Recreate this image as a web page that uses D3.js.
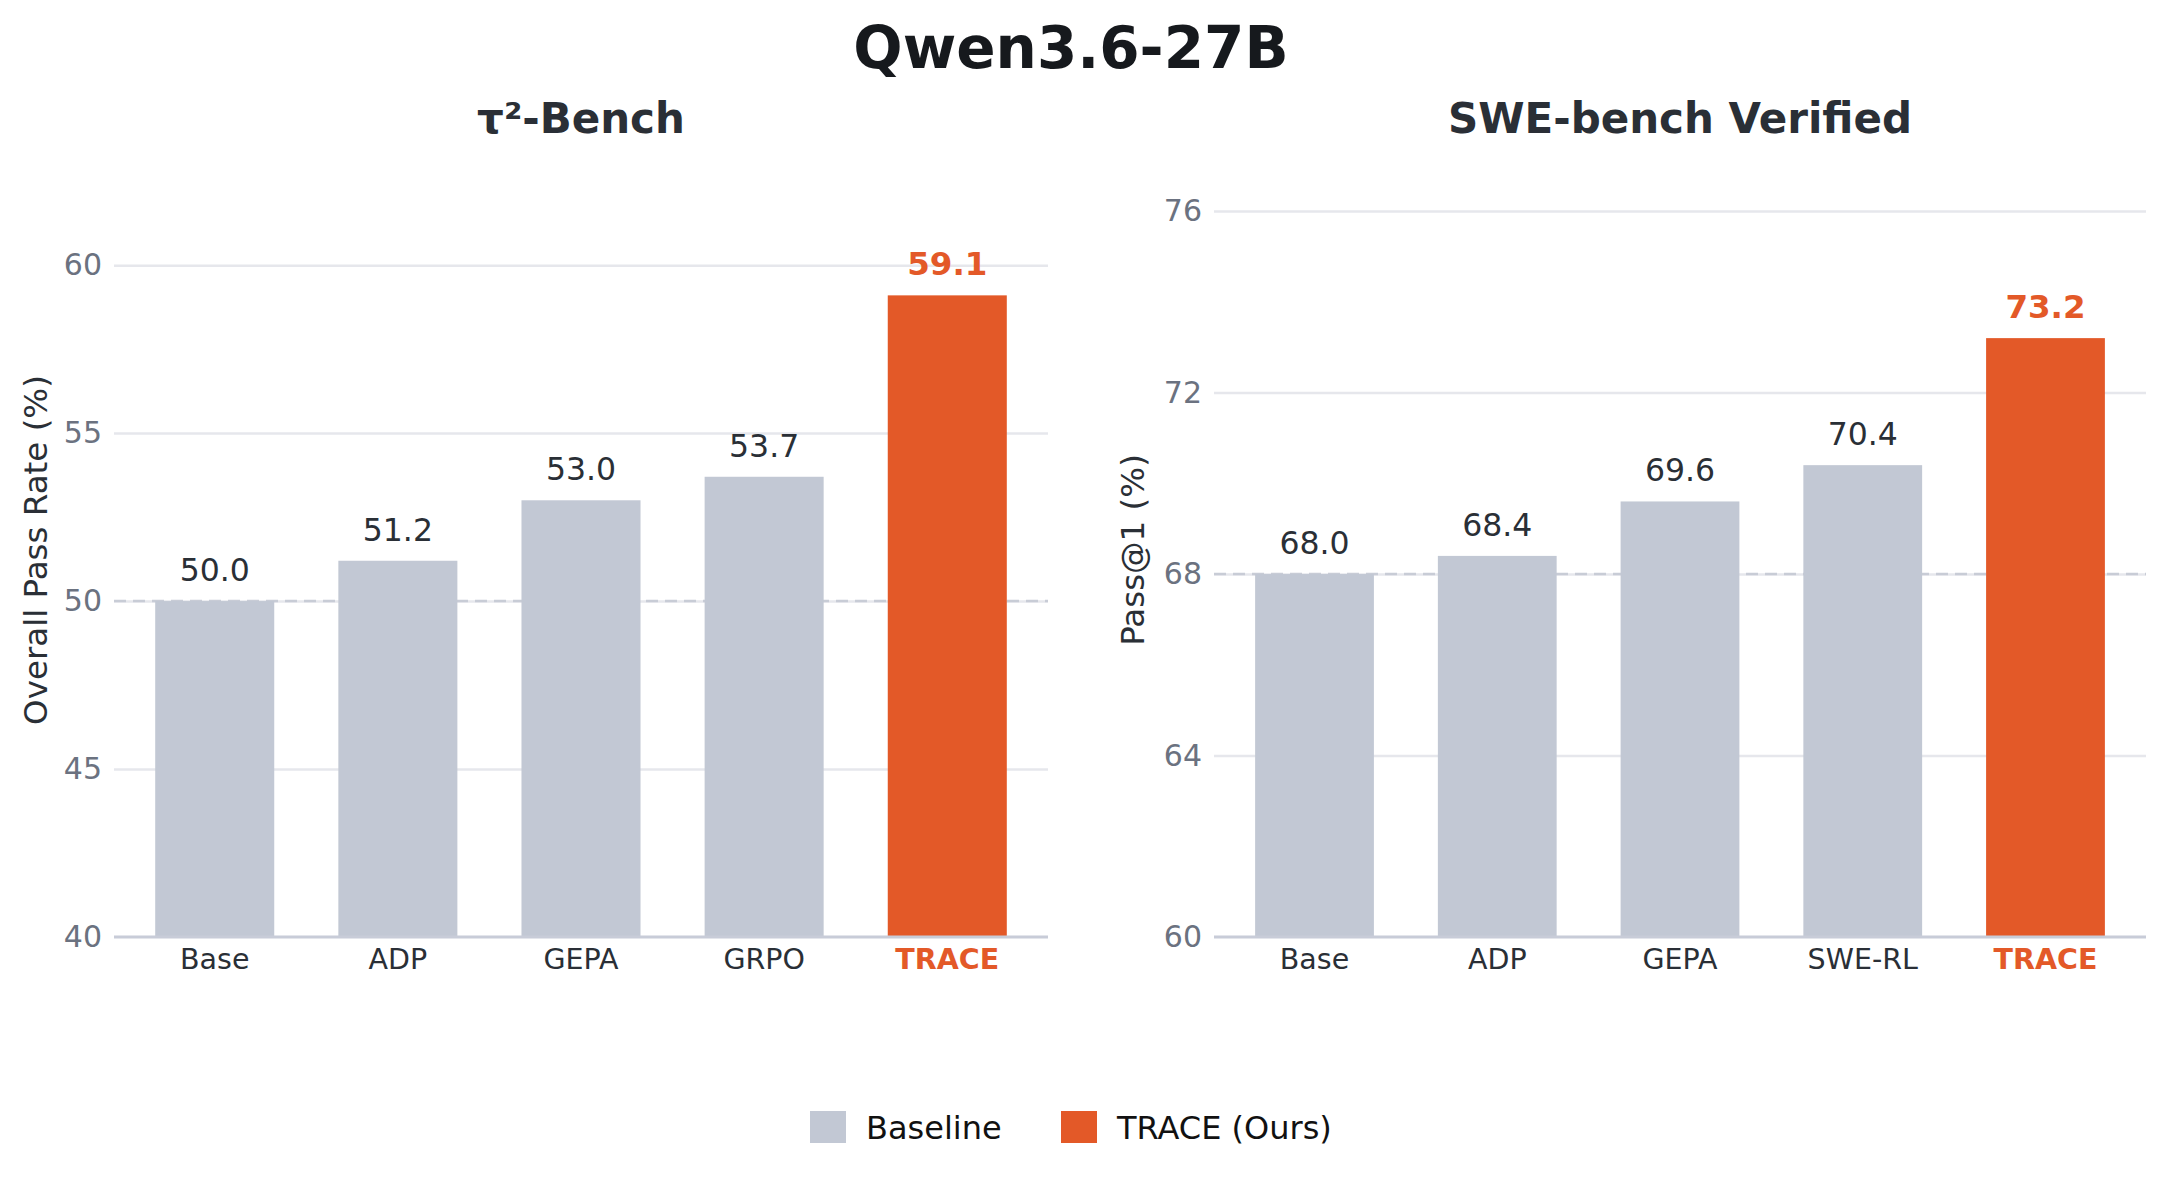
<!DOCTYPE html>
<html lang="en">
<head>
<meta charset="UTF-8">
<script src="https://d3js.org/d3.v7.min.js"></script>
<style>
  body { margin: 0; background: #fff; }
  svg { font-family: "DejaVu Sans", sans-serif; }
</style>
</head>
<body>
<div id="chart"></div>
<script>
// Data
const tauMethods = ["Base", "ADP", "GEPA", "GRPO", "TRACE"];
const tauValues = [50.0, 51.2, 53.0, 53.7, 59.1];
const tauTicks = [40, 45, 50, 55, 60];

const sweMethods = ["Base", "ADP", "GEPA", "SWE-RL", "TRACE"];
const sweValues = [68.0, 68.4, 69.6, 70.4, 73.2];
const sweTicks = [60, 64, 68, 72, 76];

const legendLabels = ["Baseline", "TRACE (Ours)"];

const width = 2167, height = 1180;
const grey = "#c2c8d4", orange = "#e35928";

const svg = d3.select("#chart").append("svg")
  .attr("width", width)
  .attr("height", height);

svg.append("text")
  .attr("x", 1071).attr("y", 68)
  .attr("text-anchor", "middle")
  .attr("font-size", 58).attr("font-weight", "bold")
  .attr("fill", "#16191d")
  .text("Qwen3.6-27B");

function panel(opts) {
  const { x0, x1, top, bottom, domain, ticks, methods, values, title, ylabel, ylabelX } = opts;
  const g = svg.append("g");

  const x = d3.scaleBand().domain(methods).range([x0, x1])
    .paddingInner(0.35).paddingOuter(0.225);
  const y = d3.scaleLinear().domain(domain).range([bottom, top]);

  // title
  g.append("text")
    .attr("x", (x0 + x1) / 2).attr("y", 133)
    .attr("text-anchor", "middle")
    .attr("font-size", 42).attr("font-weight", "bold")
    .attr("fill", "#2a2f36")
    .text(title);

  // grid + tick labels
  const yAxis = g.append("g")
    .attr("transform", `translate(${x0},0)`)
    .call(d3.axisLeft(y).tickValues(ticks).tickSize(-(x1 - x0)).tickPadding(12));
  yAxis.select(".domain").remove();
  yAxis.selectAll(".tick line").attr("stroke", "#e6e7ec").attr("stroke-width", 2.5);
  yAxis.selectAll(".tick text")
    .attr("font-size", 30).attr("fill", "#6b7280")
    .attr("font-family", "DejaVu Sans");
  // bottom grid line is covered by the axis line
  yAxis.selectAll(".tick").filter(d => d === domain[0]).select("line").remove();

  // baseline reference (dashed)
  g.append("line")
    .attr("x1", x0).attr("x2", x1)
    .attr("y1", y(values[0])).attr("y2", y(values[0]))
    .attr("stroke", "#c8ccd6").attr("stroke-width", 2.5)
    .attr("stroke-dasharray", "12,7");

  // bars
  const last = methods.length - 1;
  g.selectAll(".bar").data(values).join("rect")
    .attr("x", (d, i) => x(methods[i]))
    .attr("width", x.bandwidth())
    .attr("y", d => y(d))
    .attr("height", d => y(domain[0]) - y(d))
    .attr("fill", (d, i) => i === last ? orange : grey);

  // value labels
  g.selectAll(".val").data(values).join("text")
    .attr("x", (d, i) => x(methods[i]) + x.bandwidth() / 2)
    .attr("y", d => y(d) - 20)
    .attr("text-anchor", "middle")
    .attr("font-size", (d, i) => i === last ? 32.5 : 31.5)
    .attr("font-weight", (d, i) => i === last ? "bold" : "normal")
    .attr("fill", (d, i) => i === last ? orange : "#2a2f36")
    .text(d => d.toFixed(1));

  // x axis
  const xAxis = g.append("g")
    .attr("transform", `translate(0,${bottom})`)
    .call(d3.axisBottom(x).tickSize(0).tickPadding(12));
  xAxis.select(".domain").attr("stroke", "#c8ccd8").attr("stroke-width", 3)
    .attr("d", `M${x0},0H${x1}`);
  xAxis.selectAll(".tick text")
    .attr("font-size", 28.5).attr("font-family", "DejaVu Sans")
    .attr("fill", (d, i) => i === last ? orange : "#2a2f36")
    .attr("font-weight", (d, i) => i === last ? "bold" : "normal");

  // y label
  g.append("text")
    .attr("transform", `translate(${ylabelX},${(top + bottom) / 2}) rotate(-90)`)
    .attr("text-anchor", "middle")
    .attr("dy", "0.35em")
    .attr("font-size", 32.5)
    .attr("fill", "#2a2f36")
    .text(ylabel);
}

panel({
  x0: 114, x1: 1048, top: 163, bottom: 937,
  domain: [40, 63.04], ticks: tauTicks,
  methods: tauMethods, values: tauValues,
  title: "τ²-Bench", ylabel: "Overall Pass Rate (%)", ylabelX: 36
});

panel({
  x0: 1214, x1: 2146, top: 163, bottom: 937,
  domain: [60, 77.06], ticks: sweTicks,
  methods: sweMethods, values: sweValues,
  title: "SWE-bench Verified", ylabel: "Pass@1 (%)", ylabelX: 1133
});

// legend
const legend = svg.append("g");
const legendX = [810, 1061];
legendLabels.forEach((lab, i) => {
  legend.append("rect")
    .attr("x", legendX[i]).attr("y", 1111)
    .attr("width", 36).attr("height", 32)
    .attr("fill", i === 0 ? grey : orange);
  legend.append("text")
    .attr("x", legendX[i] + 56).attr("y", 1139)
    .attr("font-size", 32).attr("fill", "#111")
    .text(lab);
});
</script>
</body>
</html>
